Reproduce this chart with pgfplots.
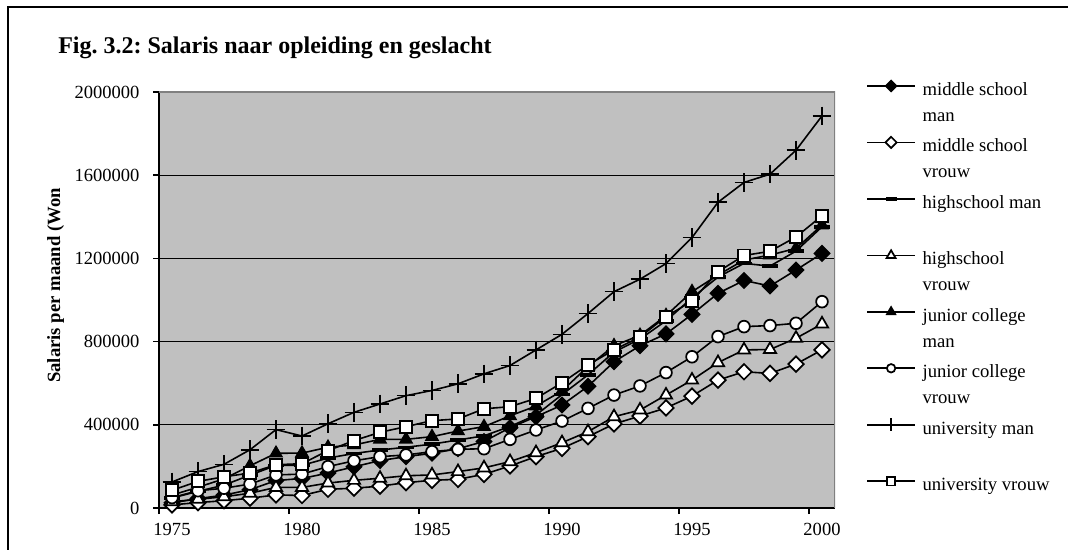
\documentclass[border=0pt]{standalone}
\usepackage{fontspec}
\setmainfont{Liberation Serif}
\usepackage{pgfplots}
\pgfplotsset{compat=1.18}
\usepackage{pgfplotstable}

\definecolor{plotgray}{RGB}{192,192,192}
\definecolor{framegray}{RGB}{128,128,128}

% salary per month (Won)
\pgfplotstableread{
year msm     msv    hsm     hsv    jcm     jcv    unm     unv
1975 25000   15000  48000   30000  62000   50000  125000  85000
1976 45000   26000  80000   42000  100000  83000  175000  128000
1977 62000   35000  110000  54000  140000  95000  210000  150000
1978 88000   47000  158000  71000  203000  115000 280000  168000
1979 132000  63000  205000  99000  263000  159000 377000  208000
1980 142000  60000  205000  99000  264000  163000 346000  213000
1981 168000  90000  240000  120000 292000  199000 405000  276000
1982 198000  95000  262000  133000 303000  227000 460000  324000
1983 228000  105000 279000  143000 330000  247000 500000  364000
1984 247000  122000 292000  155000 330000  255000 540000  391000
1985 263000  133000 307000  159000 343000  271000 565000  420000
1986 285000  138000 327000  175000 370000  282000 597000  428000
1987 320000  162000 347000  193000 391000  285000 645000  477000
1988 386000  202000 392000  223000 443000  330000 685000  487000
1989 439000  247000 447000  266000 490000  375000 760000  527000
1990 495000  287000 545000  314000 563000  418000 835000  602000
1991 585000  343000 640000  367000 680000  479000 935000  688000
1992 703000  404000 750000  439000 780000  543000 1040000 760000
1993 780000  442000 812000  471000 830000  587000 1100000 822000
1994 837000  481000 900000  543000 925000  651000 1175000 920000
1995 931000  538000 1010000 615000 1040000 727000 1300000 995000
1996 1032000 615000 1110000 699000 1120000 824000 1470000 1136000
1997 1094000 655000 1176000 760000 1192000 872000 1565000 1214000
1998 1067000 647000 1163000 762000 1216000 877000 1605000 1234000
1999 1144000 692000 1235000 816000 1248000 888000 1720000 1303000
2000 1224000 760000 1352000 885000 1360000 992000 1885000 1405000
}\salary

\begin{document}
\frenchspacing
\begin{tikzpicture}
\path[use as bounding box] (0pt,0pt) rectangle (801pt,412.5pt);
\clip (0pt,0pt) rectangle (801pt,412.5pt);
% chart area frame (right and bottom edges fall outside)
\draw[line width=1.2pt] (6pt,-20pt) -- (6pt,407.25pt) -- (820pt,407.25pt);
\node[anchor=base west, inner sep=0pt, font=\bfseries\fontsize{18}{22}\selectfont]
  at (43.5pt,372pt) {Fig. 3.2: Salaris naar opleiding en geslacht};
\node[rotate=90, anchor=base east, inner sep=0pt, font=\bfseries\fontsize{14}{17}\selectfont]
  at (45pt,271.5pt) {Salaris per maand (Won};

\begin{axis}[
    at={(119.25pt,31.5pt)}, anchor=south west,
    scale only axis, width=507pt, height=312pt,
    xmin=1974.5, xmax=2000.5, ymin=0, ymax=2000000,
    axis background/.style={fill=plotgray},
    axis x line*=bottom, axis y line*=left,
    axis line style={-, line width=1.5pt},
    xtick={1975,1980,1985,1990,1995,2000},
    xticklabels={1975,1980,1985,1990,1995,2000},
    minor xtick={1974.5,1979.5,1984.5,1989.5,1994.5,1999.5},
    ytick={0,400000,800000,1200000,1600000,2000000},
    yticklabels={0,400000,800000,1200000,1600000,2000000},
    scaled y ticks=false,
    tick align=outside,
    major tick length=4.5pt, minor tick length=4.5pt,
    tick style={black, line width=1.2pt},
    major x tick style={draw=none},
    ymajorgrids, grid style={black, line width=0.6pt},
    ticklabel style={font=\fontsize{13.9}{16}\selectfont},
    xticklabel style={inner sep=0pt, anchor=north, yshift=-7pt},
    yticklabel style={inner sep=0pt, anchor=east, xshift=-10pt},
    legend style={at={(1.0459,1.0365)}, anchor=north west, draw=none, fill=none,
        inner sep=0pt, row sep=27.2pt, column sep=5pt,
        font=\fontsize{14}{19.5}\selectfont,
        nodes={inner sep=0pt}, cells={anchor=base west}},
    legend image code/.code={
        \draw[mark repeat=2, mark phase=2, yshift=7pt,
              /tikz/every mark/.append style={scale=0.72}]
        plot coordinates {(0pt,0pt) (18pt,0pt) (36pt,0pt)};},
    every axis plot/.append style={black, line width=1.2pt},
]
\addplot[mark=diamond*, mark size=5.8pt, mark options={fill=black, xscale=1.33, line width=1pt}]
  table[x=year, y=msm] {\salary};
\addlegendentry{\parbox[t]{4cm}{\strut middle school\\\strut man}}
\addplot[mark=diamond*, mark size=5.8pt, mark options={fill=white, xscale=1.33, line width=1.3pt}]
  table[x=year, y=msv] {\salary};
\addlegendentry{\parbox[t]{4cm}{\strut middle school\\\strut vrouw}}
\addplot[mark=-, mark size=5.8pt, mark options={line width=2.6pt}]
  table[x=year, y=hsm] {\salary};
\addlegendentry{\parbox[t]{4cm}{\strut highschool man\\\strut}}
\addplot[mark=triangle*, mark size=5.3pt, mark options={fill=white, line width=1.3pt}]
  table[x=year, y=hsv] {\salary};
\addlegendentry{\parbox[t]{4cm}{\strut highschool\\\strut vrouw}}
\addplot[mark=triangle*, mark size=5.3pt, mark options={fill=black, line width=1pt}]
  table[x=year, y=jcm] {\salary};
\addlegendentry{\parbox[t]{4cm}{\strut junior college\\\strut man}}
\addplot[mark=*, mark size=4.4pt, mark options={fill=white, line width=1.3pt}]
  table[x=year, y=jcv] {\salary};
\addlegendentry{\parbox[t]{4cm}{\strut junior college\\\strut vrouw}}
\addplot[mark=+, mark size=7pt, mark options={line width=1.2pt}]
  table[x=year, y=unm] {\salary};
\addlegendentry{\parbox[t]{4cm}{\strut university man\\\strut}}
\addplot[mark=square*, mark size=4.5pt, mark options={fill=white, line width=1.4pt}]
  table[x=year, y=unv] {\salary};
\addlegendentry{\parbox[t]{4cm}{\strut university vrouw\\\strut}}
% grey top and right border of the plot area
\draw[framegray, line width=1.3pt] (rel axis cs:0,1) -- (rel axis cs:1,1) -- (rel axis cs:1,0);
\end{axis}
\end{tikzpicture}
\end{document}
